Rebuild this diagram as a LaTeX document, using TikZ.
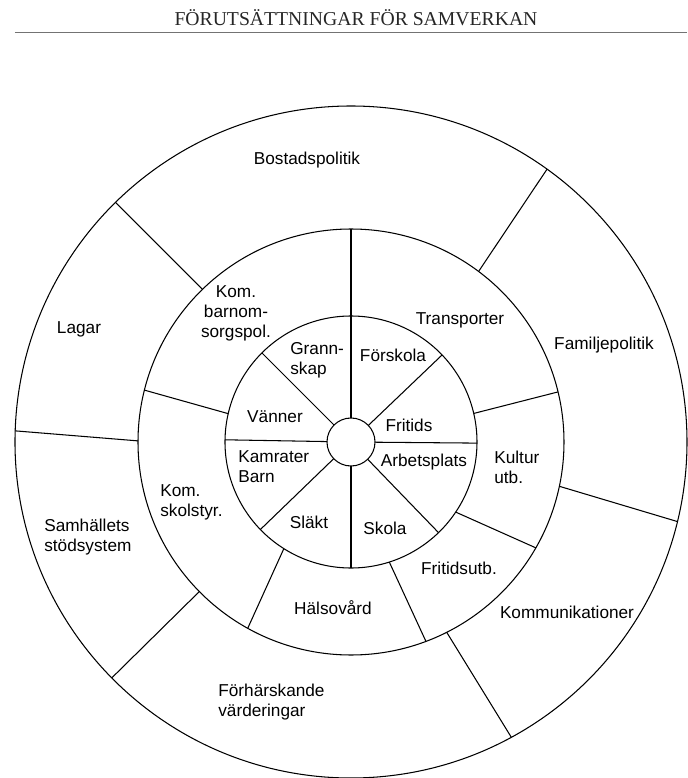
\documentclass[tikz,border=0pt]{standalone}
\usepackage{fontspec}
\setmainfont{Liberation Sans}
\newfontfamily\headfont{Liberation Serif}
\tikzset{
	ring/.style={line width=0.6pt},
	divider/.style={line width=0.6pt},
	lbl/.style={font=\fontsize{9.8}{11.4}\selectfont, inner sep=0pt, align=center},
	lblw/.style={lbl, anchor=west, align=left},
}

\begin{document}
\begin{tikzpicture}[x=0.02cm, y=0.02cm]
		%%%%% START %%%%%
		\useasboundingbox (-351, -336) rectangle (336, 442);
		
		\node[font=\headfont\fontsize{11.2}{13}\selectfont, color=black!85, inner sep=0pt] (heading) at (5, 424) {FÖRUTSÄTTNINGAR FÖR SAMVERKAN};
		\draw[line width=0.5pt, color=black!55] (-336, 410) -- (336, 410);
		
		% rings
		\draw[ring] (0, 0) circle (336);
		\draw[ring] (0, 0) circle (213);
		\draw[ring] (0, 0) circle (126);
		\draw[ring] (0, 0) circle (24);
		
		% outer ring
		\draw[divider] (134.2:213) -- (134.5:336);
		\draw[divider] (53.2:213) -- (54.3:336);
		\draw[divider] (-12:213) -- (-13.7:336);
		\draw[divider] (-63.3:213) -- (-61.5:336);
		\draw[divider] (224.6:213) -- (224.6:336);
		\draw[divider] (179.7:213) -- (178.1:336);
		
		% middle ring
		\draw[divider] (90:24) -- (90:213);
		\draw[divider] (167:126) -- (165.9:213);
		\draw[divider] (13.1:126) -- (13.6:213);
		\draw[divider] (-33.8:126) -- (-29.8:213);
		\draw[divider] (-72.3:126) -- (-69.4:213);
		\draw[divider] (237.8:126) -- (241:213);
		
		% inner ring
		\foreach \a in {-0.5, 43.7, 135, 179, 224, 270, 314}
			\draw[divider] (\a:24) -- (\a:126);
		
		\node[lbl] (bostad) at (-44, 282) {Bostadspolitik};
		\node[lbl] (lagar) at (-272, 113) {Lagar};
		\node[lbl] (familj) at (253, 97) {Familjepolitik};
		\node[lbl] (kommun) at (216, -170) {Kommunikationer};
		\node[lblw] (varder) at (-133, -260) {Förhärskande\\värderingar};
		\node[lblw] (stod) at (-307, -95) {Samhällets\\stödsystem};
		
		\node[lbl] (barnom) at (-115, 129) {Kom.\\barnom-\\sorgspol.};
		\node[lbl] (transp) at (109, 122) {Transporter};
		\node[lblw] (kultur) at (143, -25) {Kultur\\utb.};
		\node[lbl] (fritidsutb) at (108, -126) {Fritidsutb.};
		\node[lbl] (halso) at (-18, -166) {Hälsovård};
		\node[lblw] (skolstyr) at (-191, -60) {Kom.\\skolstyr.};
		
		\node[lblw] (grann) at (-61, 82) {Grann-\\skap};
		\node[lbl] (forskola) at (42, 87) {Förskola};
		\node[lbl] (vanner) at (-76, 25) {Vänner};
		\node[lbl] (fritids) at (58, 17) {Fritids};
		\node[lblw] (kamrat) at (-113, -25) {Kamrater\\Barn};
		\node[lbl] (arbete) at (73, -20) {Arbetsplats};
		\node[lbl] (slakt) at (-42, -80) {Släkt};
		\node[lbl] (skola) at (34, -86) {Skola};
		
		%%%%% END %%%%%
\end{tikzpicture}
\end{document}
